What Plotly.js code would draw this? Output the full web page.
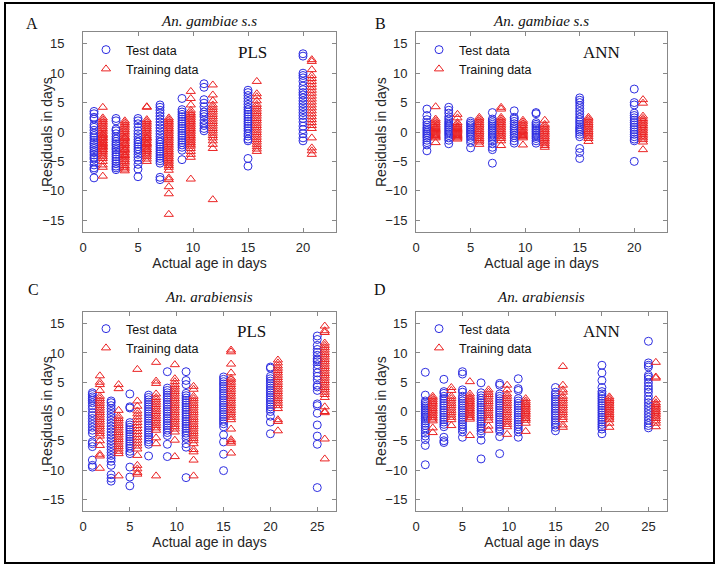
<!DOCTYPE html>
<html>
<head>
<meta charset="utf-8">
<script src="https://cdn.plot.ly/plotly-3.0.1.min.js"></script>
<style>html,body{margin:0;padding:0;background:#fff;}#chart{width:720px;height:567px;}</style>
</head>
<body>
<div id="chart"></div>
<script>
// ---- ages (x positions) ----
const gamTestAges  = [1, 3, 5, 7, 9, 11, 15, 20];
const gamTrainAges = [1.8, 3.8, 5.8, 7.8, 9.8, 11.8, 15.8, 20.8];
const araTestAges  = [1, 3, 5, 7, 9, 11, 15, 20, 25];
const araTrainAges = [1.8, 3.8, 5.8, 7.8, 9.8, 11.8, 15.8, 20.8, 25.8];
const xTicksGam = [0, 5, 10, 15, 20];
const xTicksAra = [0, 5, 10, 15, 20, 25];
const yTicks = [-15, -10, -5, 0, 5, 10, 15];

// ---- An. gambiae s.s, PLS ----
const gamPLSTest = [
  [3.5,3.1,2.5,2.2,1.2,0.8,0.3,-0.2,-0.6,-1,-1.4,-1.8,-2.1,-2.5,-2.8,-3.2,-3.5,-3.9,-4.3,-4.6,-5.1,-5.6,-6.1,-6.4,-7.8],
  [2.3,1.9,0.5,0.2,-0.3,-0.8,-1.2,-1.6,-2,-2.3,-2.7,-3,-3.4,-3.8,-4.2,-4.6,-5,-5.4,-5.8,-6.1,-6.4],
  [2.3,1.9,1.4,0.8,0.2,-0.3,-0.8,-1.3,-1.7,-2.1,-2.5,-2.9,-3.3,-3.8,-4.3,-4.8,-5.5,-6.3,-7.6],
  [4.6,4.2,3.7,3.2,2.7,2.2,1.7,1.2,0.7,0.2,-0.3,-0.8,-1.3,-1.7,-2.1,-2.5,-2.9,-3.3,-3.7,-4.1,-4.5,-4.9,-5.3,-7.7,-8.1],
  [5.7,3.8,3.4,3,2.6,2.2,1.8,1.4,1,0.6,0.2,-0.2,-0.6,-1,-1.4,-1.8,-2.2,-2.6,-3.1,-4.7],
  [8.2,7.6,5.5,4.9,4.3,3.4,3,2.6,2,1.5,1.1,0.6,0.2],
  [7.1,6.7,6.2,5.7,5.2,4.7,4.2,3.8,3.4,3,2.6,2.2,1.8,1.4,1,0.6,0.2,-0.3,-0.7,-1.2,-1.5,-4.5,-5.8],
  [13.3,12.9,10,9.6,9.2,8.6,7.8,7.2,6.7,6.3,5.8,5.3,4.8,4.3,3.8,3.3,2.8,2.3,1.7,1,0.4,-0.3,-1,-1.5]
];
const gamPLSTrain = [
  [4.2,2.4,2.1,1.8,1.5,1.2,0.9,0.6,0.3,0,-0.3,-0.6,-0.9,-1.2,-1.5,-1.8,-2.1,-2.4,-2.7,-3,-3.3,-3.6,-3.9,-4.2,-4.5,-5,-5.6,-6,-7.5,-1,-2,-3,-0.5,-1.5,-2.5],
  [1.9,1.6,1.3,1,0.7,0.4,0.1,-0.2,-0.5,-0.8,-1.1,-1.4,-1.7,-2,-2.3,-2.6,-2.9,-3.2,-3.5,-3.8,-4.1,-4.4,-4.7,-5,-5.3,-5.7,-6,-6.3,-6.6,-1,-2,-3,-4],
  [4.3,4.2,2.1,1.8,1.5,1.2,0.9,0.6,0.3,0,-0.3,-0.6,-0.9,-1.2,-1.5,-1.8,-2.1,-2.4,-2.7,-3,-3.3,-3.6,-3.9,-4.2,-4.6,-5,-1,-2,-3],
  [2.4,2.1,1.8,1.5,1.2,0.9,0.6,0.3,0,-0.3,-0.6,-0.9,-1.2,-1.5,-1.8,-2.1,-2.4,-2.7,-3,-3.3,-3.6,-3.9,-4.2,-4.5,-4.8,-5.1,-5.4,-5.7,-6,-6.5,-7.8,-8.1,-9.3,-10.5,-14],
  [6.9,5.7,4.6,3.7,3.3,3,2.7,2.4,2.1,1.8,1.5,1.2,0.9,0.6,0.3,0,-0.3,-0.6,-0.9,-1.2,-1.5,-1.8,-2.1,-2.4,-2.8,-3.3,-3.8,-4.3,-8],
  [8,6.3,5.3,4.6,4.2,3.8,3.4,3,2.6,2.2,1.8,1.4,1,0.6,0.2,-0.2,-0.6,-1,-1.5,-2.1,-2.8,-11.5],
  [8.6,6.5,6,5.3,4.7,4.3,3.9,3.5,3.1,2.7,2.3,1.9,1.5,1.1,0.7,0.3,-0.1,-0.5,-0.9,-1.3,-1.7,-2.1,-2.5,-2.9,-3.3],
  [12.3,12,10.6,9.6,9.1,8.6,8.1,7.6,7.1,6.6,6.1,5.6,5.1,4.6,4.1,3.6,3.1,2.6,2.1,1.6,1.1,0.6,-1,-2.7,-3.2,-3.8]
];

// ---- An. gambiae s.s, ANN ----
const gamANNTest = [
  [3.9,2.8,2.1,1.6,1.2,0.8,0.5,0.2,-0.1,-0.4,-0.7,-1,-1.4,-1.8,-2.2,-3.2],
  [4.2,3.7,3.2,2.6,2.2,1.8,1.5,1.2,0.9,0.6,0.3,0,-0.3,-0.6,-1,-1.4,-2],
  [1.8,1.5,1.2,0.9,0.6,0.3,0,-0.3,-0.6,-0.9,-1.3,-1.8,-2.7],
  [3.3,2.2,1.9,1.6,1.3,1,0.7,0.4,0.1,-0.2,-0.5,-0.8,-1.1,-1.5,-2,-2.6,-3,-5.3],
  [3.6,2.5,2.2,1.8,1.4,1,0.7,0.4,0.1,-0.2,-0.6,-1,-1.5,-1.9],
  [3.3,3.1,1.6,1.3,1,0.7,0.4,0.1,-0.2,-0.5,-0.8,-1.1,-1.5,-1.9],
  [5.8,5.4,5,4.5,4,3.5,3,2.5,2.1,1.7,1.3,0.9,0.6,0.3,0,-0.4,-0.8,-2.8,-3.5,-4.5],
  [7.3,5,4.6,3.2,2.8,2.4,2,1.6,1.2,0.8,0.4,0,-0.4,-0.8,-1.2,-1.5,-5]
];
const gamANNTrain = [
  [4.3,2.2,1.9,1.6,1.3,1,0.8,0.6,0.4,0.2,0,-0.2,-0.4,-0.6,-0.8,-1,-1.8],
  [3,2.4,1.6,1.3,1,0.8,0.6,0.4,0.2,0,-0.2,-0.4,-0.6,-0.8,-1,-1.2],
  [2.5,2.2,1.9,1.6,1.3,1,0.7,0.4,0.1,-0.2,-0.5,-0.8,-1.1,-1.4,-1.7,-2.1],
  [4.2,3.9,2.5,2.2,1.9,1.6,1.3,1,0.7,0.4,0.1,-0.2,-0.5,-0.8,-1.1,-1.5,-2.3],
  [2,1.7,1.4,1.1,0.8,0.5,0.2,0,-0.2,-0.4,-0.6,-0.8,-1,-2.2],
  [2,1.3,1,0.7,0.4,0.1,-0.2,-0.5,-0.8,-1.1,-1.4,-1.7,-2,-2.3,-2.6],
  [2.5,2.2,1.9,1.6,1.3,1,0.7,0.4,0.1,-0.2,-0.5,-0.8,-1.1,-1.6],
  [5.5,4.9,2.7,2.3,2,1.7,1.4,1.1,0.8,0.5,0.2,-0.1,-0.4,-0.7,-1,-1.3,-1.7,-3]
];

// ---- An. arabiensis, PLS ----
const araPLSTest = [
  [3.2,2.9,2.5,2.2,1.9,1.5,1,0.5,-0.2,-0.7,-1.2,-1.7,-2.2,-2.7,-3.2,-3.7,-5.2,-5.5,-6,-8.3,-9.2,-9.5],
  [1.8,1.5,1,0.5,0,-0.5,-1,-1.5,-2,-2.5,-3,-3.5,-4,-4.5,-5,-5.5,-6,-6.5,-7,-7.5,-8,-8.5,-9.2,-10.8,-11.4,-11.9],
  [3,0.8,0.6,-1.9,-2.3,-2.7,-3.1,-3.5,-3.9,-4.3,-4.7,-5.1,-5.5,-5.9,-6.3,-6.8,-7.2,-9.5,-11.2,-12.7],
  [2.8,2.4,2,1.6,1.2,0.8,0.4,0,-0.4,-0.8,-1.2,-1.6,-2,-2.4,-2.8,-3.2,-3.6,-4,-4.4,-4.8,-5.2,-5.6,-7.6],
  [6.8,4,3.6,3.2,2.8,2.4,2,1.6,1.2,0.8,0.4,0,-0.4,-0.8,-1.2,-1.6,-2,-2.4,-2.8,-3.2,-3.6,-4.1,-5.6,-7.7],
  [6.8,5.3,4.6,3.1,2.7,2.3,1.9,1.5,1.1,0.7,0.3,-0.1,-0.5,-0.9,-1.3,-1.7,-2.1,-2.5,-2.9,-3.3,-3.7,-4.1,-4.6,-5.5,-6.1,-11.3],
  [5.9,5.5,5.1,4.7,4.3,3.9,3.5,3.1,2.7,2.3,1.9,1.5,1.1,0.7,0.3,-0.1,-0.5,-0.9,-1.3,-1.7,-2.1,-2.6,-4,-5.2,-7.3,-10.1],
  [7.6,7.4,6,5.6,5.2,4.8,4.4,4,3.6,3.2,2.8,2.4,2,1.6,1.2,0.8,0.4,0,-0.8,-1.8,-3.8],
  [12.9,12.3,11.3,10.6,10.1,9.6,9,8.8,8.5,8,7.3,6.6,6,5.4,4.5,4.2,3.6,1.3,1,-0.3,-2.3,-4.2,-5.6,-13]
];
const araPLSTrain = [
  [6.1,5,4.6,3.6,2.6,2.2,1.8,1.4,1,0.6,0.2,-0.2,-0.6,-1,-1.4,-1.8,-2.2,-2.6,-3,-3.4,-3.8,-4.2,-5,-5.8,-7.3,-7.6,-9.7],
  [4.6,3.9,0.2,-0.8,-1.2,-1.6,-2,-2.4,-2.8,-3.2,-3.6,-4,-4.4,-4.8,-5.2,-5.6,-6,-6.4,-6.8,-7.2,-11],
  [7.2,1.8,0.9,0.1,-0.4,-0.9,-1.4,-1.9,-2.4,-2.9,-3.4,-3.9,-4.4,-4.9,-5.4,-5.9,-6.4,-7.5,-9.2,-9.8,-10.4,-10.7],
  [8.4,5.2,4.8,3,2.4,2,1.6,1.2,0.8,0.4,0,-0.4,-0.8,-1.2,-1.6,-2,-2.4,-2.8,-3.2,-4.5,-5.5,-11],
  [8,5.6,5.1,4.6,4.2,3.8,3.4,3,2.6,2.2,1.8,1.4,1,0.6,0.2,-0.2,-0.6,-1,-1.4,-1.8,-2.2,-2.6,-3,-3.5,-4.9,-7.7],
  [4.3,3.8,2.6,2.2,1.8,1.4,1,0.6,0.2,-0.2,-0.6,-1,-1.4,-1.8,-2.2,-2.6,-3,-3.4,-3.8,-4.2,-4.6,-5,-5.5,-6.5,-6.9,-8.3,-11],
  [10.5,10.2,8.1,6.6,5.7,5.4,5,4.6,4.2,3.8,3.4,3,2.6,2.2,1.8,1.4,1,0.6,0.2,-0.2,-0.6,-1,-1.4,-3,-4.8,-5.1,-5.4,-7.1],
  [8.8,8.3,7.8,7.4,7,6.6,6.2,5.8,5.4,5,4.6,4.2,3.8,3.4,3,2.6,2.2,1.8,1.4,1,0.5,-1.4,-1.7,-3.3],
  [14.6,13.8,13.5,11.7,11.3,10.9,10.5,10.1,9.7,9.3,8.9,8.5,8.1,7.7,7.3,6.9,6.5,6.1,5.7,5.3,4.9,4.5,4.1,3.7,3.3,2.9,2.4,0.8,0,-0.2,-4.7,-8.1]
];

// ---- An. arabiensis, ANN ----
const araANNTest = [
  [6.7,2.8,1.8,1.5,1.2,0.9,0.6,0.3,0,-0.3,-0.6,-0.9,-1.2,-1.6,-2,-2.4,-2.8,-3.2,-3.7,-4.2,-4.8,-5.8,-9.1],
  [5.5,3.4,3.1,2.6,2.2,1.8,1.4,1,0.6,0.2,-0.2,-0.6,-1,-1.4,-1.8,-2.2,-2.6,-4.4,-5,-5.3],
  [6.8,6.4,3.7,3.3,2.6,2.2,1.8,1.4,1,0.6,0.2,-0.2,-0.6,-1,-1.4,-1.8,-2.2,-2.6,-3,-3.5,-4.4],
  [4.9,3.2,2.7,2.3,1.9,1.5,1.1,0.7,0.3,-0.1,-0.5,-0.9,-1.3,-1.7,-2.1,-2.5,-2.9,-3.3,-3.8,-4.9,-8.1],
  [4.8,4.5,3,2.6,2.2,1.8,1.4,1,0.6,0.2,-0.2,-0.6,-1,-1.4,-1.8,-2.2,-2.6,-3,-3.4,-4.3,-7.2],
  [5.6,3.9,3.6,2.2,1.8,1.4,1,0.6,0.2,-0.2,-0.6,-1,-1.4,-1.8,-2.2,-2.6,-3,-3.5,-4.4],
  [4.1,3.3,2.9,2.5,2.1,1.7,1.3,0.9,0.5,0.1,-0.3,-0.7,-1.1,-1.5,-1.9,-2.3,-2.7,-3.3],
  [7.9,6.6,5.3,4.1,3.4,3,2.6,2.2,1.8,1.4,1,0.6,0.2,-0.2,-0.6,-1,-1.4,-1.8,-2.2,-2.6,-3,-3.8],
  [12,8.3,7.9,7.6,6.2,5.9,5.5,4.9,4.3,3.8,3.3,2.6,2,1.5,1,0.5,0,-0.5,-1,-1.5,-2,-2.4,-2.8]
];
const araANNTrain = [
  [2.6,2.3,2,1.7,1.4,1.1,0.8,0.5,0.2,-0.1,-0.4,-0.7,-1,-1.3,-1.6,-2.8,-3.6],
  [4.1,3.6,2.6,2.2,1.8,1.4,1,0.6,0.2,-0.2,-0.6,-1,-1.4,-2.4],
  [5.1,3,2.6,2.3,2,1.7,1.4,1.1,0.8,0.5,0.2,-0.1,-0.4,-0.7,-1,-1.3,-4.1],
  [3.7,3.3,2.9,2.5,2.1,1.7,1.3,0.9,0.5,0.1,-0.3,-0.7,-1.1,-1.5,-2.5,-3.2],
  [4.5,3.7,3,2.6,2.2,1.8,1.4,1,0.6,0.2,-0.2,-0.6,-1,-1.4,-1.8,-2.2,-2.6,-3.9],
  [2.2,1.8,1.5,1.2,0.9,0.6,0.3,0,-0.3,-0.6,-0.9,-1.2,-1.5,-2,-3.4],
  [7.7,4.5,3.7,3.3,2.6,2.2,1.8,1.4,1,0.6,0.2,-0.2,-0.6,-1,-1.4,-2.3,-2.7],
  [2.5,2.2,1.9,1.6,1.3,1,0.7,0.4,0.1,-0.2,-0.5,-0.8,-1.1,-1.4,-2,-2.7],
  [8.4,5.9,5.7,2,1.5,1.2,0.9,0.6,0.3,0,-0.3,-0.6,-0.9,-1.2,-1.6,-2,-2.6]
];

const BLUE = 'rgb(45,45,225)';
const RED = 'rgb(235,35,35)';

function flat(ages, groups) {
  const x = [], y = [];
  groups.forEach((g, i) => g.forEach(v => { x.push(ages[i]); y.push(v); }));
  return {x, y};
}

const panels = [
  {test: gamPLSTest, train: gamPLSTrain, tA: gamTestAges, rA: gamTrainAges, xa: 'x',  ya: 'y',  lg: 'legend'},
  {test: gamANNTest, train: gamANNTrain, tA: gamTestAges, rA: gamTrainAges, xa: 'x2', ya: 'y2', lg: 'legend2'},
  {test: araPLSTest, train: araPLSTrain, tA: araTestAges, rA: araTrainAges, xa: 'x3', ya: 'y3', lg: 'legend3'},
  {test: araANNTest, train: araANNTrain, tA: araTestAges, rA: araTrainAges, xa: 'x4', ya: 'y4', lg: 'legend4'}
];

const data = [];
panels.forEach(p => {
  const t = flat(p.tA, p.test), r = flat(p.rA, p.train);
  data.push({type: 'scatter', mode: 'markers', name: 'Test data', x: t.x, y: t.y, xaxis: p.xa, yaxis: p.ya, legend: p.lg,
    marker: {symbol: 'circle-open', size: 8, color: BLUE, line: {width: 1, color: BLUE}}});
  data.push({type: 'scatter', mode: 'markers', name: 'Training data', x: r.x, y: r.y, xaxis: p.xa, yaxis: p.ya, legend: p.lg,
    marker: {symbol: 'triangle-up-open', size: 8, color: RED, line: {width: 1, color: RED}}});
});

const W = 720, H = 567;
const px = v => v / W, py = v => 1 - v / H;
const tickFont = {family: 'Liberation Sans, Arial, sans-serif', size: 13, color: '#262626'};
const titleFont = {family: 'Liberation Sans, Arial, sans-serif', size: 14, color: '#262626'};

function xAxis(dom, anchor, range, ticks) {
  return {domain: dom, anchor: anchor, range: range, tickvals: ticks, ticks: 'inside', ticklen: 4, tickcolor: '#888',
    showline: true, linecolor: '#888', linewidth: 1, mirror: 'allticks', showgrid: false, zeroline: false,
    ticklabelstandoff: 3,
    tickfont: tickFont, title: {text: 'Actual age in days', font: titleFont, standoff: 2}};
}
function yAxis(dom, anchor, standoff) {
  return {domain: dom, anchor: anchor, range: [-17, 17], tickvals: yTicks, ticks: 'inside', ticklen: 4, tickcolor: '#888',
    showline: true, linecolor: '#888', linewidth: 1, mirror: 'allticks', showgrid: false, zeroline: false,
    ticklabelstandoff: standoff, tickfont: tickFont};
}

const xL = [px(83), px(336)], xR = [px(416), px(667)];
const yT = [py(232), py(32)], yB = [py(511), py(312)];

const serif = 'Liberation Serif, Times New Roman, serif';
const sans = 'Liberation Sans, Arial, sans-serif';
function ann(text, x, y, size, italic, xref, yref) {
  return {text: italic ? '<i>' + text + '</i>' : text, x: x, y: y, xref: xref || 'paper', yref: yref || 'paper',
    showarrow: false, xanchor: 'center', yanchor: 'middle', font: {family: serif, size: size, color: '#111'}};
}
function yTitle(x, y) {
  return {text: 'Residuals in days', x: x, y: y, xref: 'paper', yref: 'paper', showarrow: false, textangle: -90,
    xanchor: 'center', yanchor: 'middle', font: titleFont};
}

const legendBase = {bgcolor: 'rgba(0,0,0,0)', borderwidth: 0, font: {family: sans, size: 12.5, color: '#111'},
  xanchor: 'left', yanchor: 'top', tracegroupgap: 0, itemclick: false};

const layout = {
  width: W, height: H,
  margin: {l: 0, r: 0, t: 0, b: 0},
  paper_bgcolor: '#fff', plot_bgcolor: '#fff',
  showlegend: true,
  xaxis:  xAxis(xL, 'y',  [0, 23], xTicksGam),
  yaxis:  yAxis(yT, 'x', 15),
  xaxis2: xAxis(xR, 'y2', [0, 23], xTicksGam),
  yaxis2: yAxis(yT, 'x2', 5),
  xaxis3: xAxis(xL, 'y3', [0, 27], xTicksAra),
  yaxis3: yAxis(yB, 'x3', 15),
  xaxis4: xAxis(xR, 'y4', [0, 27], xTicksAra),
  yaxis4: yAxis(yB, 'x4', 5),
  legend:  Object.assign({}, legendBase, {x: px(86),  y: py(35)}),
  legend2: Object.assign({}, legendBase, {x: px(419), y: py(35)}),
  legend3: Object.assign({}, legendBase, {x: px(86),  y: py(314)}),
  legend4: Object.assign({}, legendBase, {x: px(419), y: py(314)}),
  annotations: [
    ann('A', px(32), py(23), 16, false),
    ann('B', px(380), py(23), 16, false),
    ann('C', px(33), py(289), 16, false),
    ann('D', px(380), py(289), 16, false),
    ann('An. gambiae s.s', px(209), py(21), 15, true),
    ann('An. gambiae s.s', px(541), py(21), 15, true),
    ann('An. arabiensis', px(209), py(297), 15, true),
    ann('An. arabiensis', px(541), py(297), 15, true),
    ann('PLS', 15.4, 13.6, 17, false, 'x', 'y'),
    ann('ANN', 17, 13.6, 17, false, 'x2', 'y2'),
    ann('PLS', 18, 13.7, 17, false, 'x3', 'y3'),
    ann('ANN', 19.9, 13.7, 17, false, 'x4', 'y4'),
    yTitle(px(47), py(132)),
    yTitle(px(381), py(132)),
    yTitle(px(47), py(411)),
    yTitle(px(381), py(411))
  ],
  shapes: [
    {type: 'rect', xref: 'paper', yref: 'paper', x0: px(5), x1: px(714), y0: py(563), y1: py(3), line: {color: '#000', width: 2}}
  ]
};

Plotly.newPlot('chart', data, layout, {staticPlot: true, displayModeBar: false});
</script>
</body>
</html>
